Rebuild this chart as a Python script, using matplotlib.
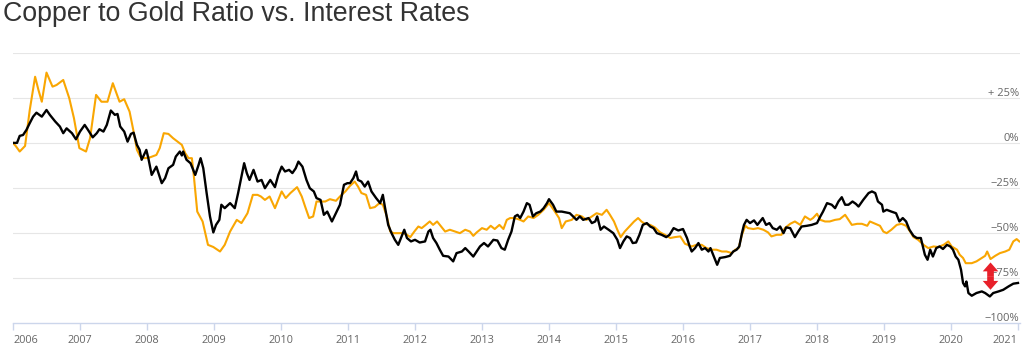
import matplotlib
matplotlib.use("Agg")
import matplotlib.pyplot as plt
from matplotlib.patches import FancyArrowPatch
import matplotlib.transforms as mtransforms
import numpy as np

# copper / gold ratio, % change since 2006 (black)
cg_years = [
    2006.00, 2006.06, 2006.10, 2006.15, 2006.20, 2006.25, 2006.30, 2006.35, 2006.43, 2006.50,
    2006.55, 2006.63, 2006.70, 2006.75, 2006.80, 2006.88, 2006.94, 2007.00, 2007.07, 2007.12,
    2007.19, 2007.25, 2007.29, 2007.35, 2007.40, 2007.46, 2007.52, 2007.56, 2007.60, 2007.66,
    2007.71, 2007.76, 2007.80, 2007.85, 2007.89, 2007.92, 2007.99, 2008.02, 2008.07, 2008.14,
    2008.22, 2008.27, 2008.32, 2008.39, 2008.43, 2008.49, 2008.52, 2008.54, 2008.59, 2008.65,
    2008.72, 2008.77, 2008.80, 2008.84, 2008.89, 2008.94, 2008.99, 2009.03, 2009.08, 2009.11,
    2009.16, 2009.24, 2009.31, 2009.36, 2009.41, 2009.45, 2009.49, 2009.53, 2009.59, 2009.65,
    2009.71, 2009.76, 2009.84, 2009.91, 2009.96, 2010.01, 2010.06, 2010.12, 2010.17, 2010.22,
    2010.26, 2010.32, 2010.38, 2010.43, 2010.49, 2010.53, 2010.59, 2010.64, 2010.69, 2010.76,
    2010.82, 2010.88, 2010.94, 2010.99, 2011.03, 2011.08, 2011.12, 2011.15, 2011.20, 2011.25,
    2011.30, 2011.35, 2011.42, 2011.48, 2011.52, 2011.55, 2011.60, 2011.65, 2011.70, 2011.75,
    2011.80, 2011.84, 2011.88, 2011.94, 2012.00, 2012.07, 2012.15, 2012.20, 2012.23, 2012.27,
    2012.32, 2012.37, 2012.42, 2012.50, 2012.57, 2012.62, 2012.70, 2012.75, 2012.80, 2012.87,
    2012.92, 2012.97, 2013.03, 2013.09, 2013.17, 2013.23, 2013.29, 2013.34, 2013.39, 2013.44,
    2013.49, 2013.53, 2013.57, 2013.62, 2013.67, 2013.71, 2013.76, 2013.81, 2013.87, 2013.92,
    2013.97, 2014.00, 2014.06, 2014.11, 2014.19, 2014.26, 2014.31, 2014.36, 2014.41, 2014.46,
    2014.51, 2014.59, 2014.64, 2014.69, 2014.72, 2014.77, 2014.82, 2014.89, 2014.96, 2015.02,
    2015.06, 2015.11, 2015.16, 2015.21, 2015.25, 2015.30, 2015.35, 2015.40, 2015.46, 2015.51,
    2015.56, 2015.61, 2015.68, 2015.75, 2015.80, 2015.86, 2015.93, 2016.00, 2016.06, 2016.10,
    2016.13, 2016.18, 2016.23, 2016.28, 2016.33, 2016.38, 2016.41, 2016.45, 2016.51, 2016.55,
    2016.63, 2016.70, 2016.75, 2016.80, 2016.84, 2016.88, 2016.91, 2016.95, 2017.00, 2017.06,
    2017.11, 2017.15, 2017.19, 2017.24, 2017.29, 2017.34, 2017.40, 2017.45, 2017.50, 2017.54,
    2017.60, 2017.67, 2017.72, 2017.77, 2017.85, 2017.92, 2018.00, 2018.05, 2018.09, 2018.15,
    2018.22, 2018.27, 2018.32, 2018.37, 2018.42, 2018.47, 2018.53, 2018.58, 2018.62, 2018.69,
    2018.77, 2018.82, 2018.87, 2018.91, 2018.97, 2018.99, 2019.04, 2019.11, 2019.18, 2019.23,
    2019.28, 2019.33, 2019.38, 2019.44, 2019.49, 2019.55, 2019.58, 2019.61, 2019.65, 2019.69,
    2019.73, 2019.78, 2019.83, 2019.88, 2019.94, 2019.99, 2020.03, 2020.07, 2020.11, 2020.15,
    2020.18, 2020.21, 2020.23, 2020.26, 2020.31, 2020.38, 2020.46, 2020.51, 2020.58, 2020.63,
    2020.71, 2020.78, 2020.86, 2020.93, 2021.00,
]
cg_values = [
    0.0, 0.0, 3.9, 4.4, 7.2, 11.0, 14.6, 16.8, 14.6, 18.3,
    15.6, 11.9, 9.1, 5.4, 8.1, 5.4, 2.0, 6.3, 10.0, 7.2,
    3.1, 5.4, 7.6, 6.3, 10.0, 18.0, 15.6, 16.1, 9.1, 6.3,
    0.7, 5.0, 5.7, -1.1, -3.9, -9.4, -3.9, -8.5, -17.8, -13.2,
    -22.4, -19.6, -14.1, -12.2, -7.6, -4.8, -7.0, -4.8, -9.4, -11.3,
    -17.8, -12.2, -8.5, -14.1, -27.9, -40.9, -49.8, -45.6, -42.8, -34.4,
    -36.3, -33.5, -36.3, -27.9, -18.7, -11.3, -16.8, -20.6, -15.0, -21.5,
    -20.6, -25.2, -20.6, -24.6, -17.8, -13.2, -15.9, -15.0, -16.8, -14.1,
    -10.4, -13.2, -20.6, -25.2, -27.0, -30.7, -31.7, -40.0, -38.2, -43.7,
    -39.1, -34.4, -23.3, -22.4, -22.4, -19.6, -15.9, -20.6, -21.5, -24.3,
    -21.5, -27.0, -30.7, -33.5, -28.9, -35.4, -45.6, -50.2, -53.9, -56.7,
    -52.0, -48.3, -52.9, -54.8, -53.9, -55.4, -54.8, -49.3, -48.3, -52.9,
    -55.7, -59.4, -62.8, -63.2, -65.9, -61.3, -60.4, -58.5, -60.4, -63.2,
    -60.4, -57.6, -55.7, -57.6, -53.9, -54.3, -58.5, -59.4, -53.9, -49.3,
    -40.9, -40.0, -41.8, -38.2, -33.5, -34.4, -40.9, -39.1, -38.2, -36.3,
    -33.5, -31.3, -34.4, -38.2, -38.2, -38.7, -39.1, -40.9, -42.8, -40.9,
    -42.8, -41.8, -44.6, -43.7, -40.9, -48.3, -46.5, -48.3, -50.2, -53.9,
    -58.5, -54.8, -52.0, -52.9, -55.7, -55.4, -51.1, -45.6, -44.6, -46.5,
    -47.4, -50.2, -51.1, -52.4, -51.1, -47.4, -48.7, -47.9, -52.9, -57.6,
    -60.4, -58.5, -55.7, -59.4, -58.5, -60.4, -58.5, -62.2, -67.8, -64.0,
    -63.5, -62.8, -60.4, -59.4, -57.6, -50.2, -45.6, -42.8, -44.6, -43.1,
    -45.6, -43.7, -41.8, -45.6, -44.6, -47.4, -48.3, -46.5, -50.2, -47.0,
    -47.4, -52.4, -49.3, -46.5, -46.1, -45.6, -44.6, -40.9, -38.2, -33.5,
    -34.4, -36.3, -32.6, -30.2, -34.4, -34.4, -32.6, -33.9, -35.4, -31.7,
    -27.9, -27.0, -27.9, -32.6, -34.4, -38.2, -37.2, -38.2, -39.1, -43.7,
    -41.8, -43.7, -48.3, -51.7, -52.9, -52.9, -57.6, -62.2, -65.0, -59.4,
    -63.2, -58.5, -57.6, -59.0, -56.7, -57.6, -59.4, -63.2, -65.0, -70.6,
    -77.9, -79.8, -77.1, -83.5, -85.0, -83.5, -82.6, -83.5, -85.4, -83.5,
    -82.6, -81.7, -79.8, -78.3, -77.9,
]

# interest rates, % change since 2006 (orange)
rate_years = [
    2006.00, 2006.04, 2006.10, 2006.18, 2006.25, 2006.33, 2006.38, 2006.43, 2006.50, 2006.59,
    2006.65, 2006.75, 2006.84, 2006.91, 2006.99, 2007.09, 2007.15, 2007.24, 2007.32, 2007.41,
    2007.49, 2007.59, 2007.66, 2007.74, 2007.80, 2007.85, 2007.90, 2007.97, 2008.04, 2008.14,
    2008.19, 2008.25, 2008.32, 2008.39, 2008.52, 2008.57, 2008.62, 2008.67, 2008.70, 2008.75,
    2008.83, 2008.91, 2008.99, 2009.09, 2009.16, 2009.24, 2009.34, 2009.41, 2009.50, 2009.58,
    2009.65, 2009.70, 2009.76, 2009.83, 2009.91, 2010.01, 2010.07, 2010.14, 2010.24, 2010.31,
    2010.36, 2010.42, 2010.48, 2010.53, 2010.58, 2010.66, 2010.73, 2010.82, 2010.88, 2010.96,
    2011.03, 2011.10, 2011.15, 2011.20, 2011.27, 2011.33, 2011.40, 2011.47, 2011.52, 2011.58,
    2011.63, 2011.68, 2011.75, 2011.83, 2011.88, 2011.93, 2011.99, 2012.05, 2012.10, 2012.16,
    2012.22, 2012.27, 2012.33, 2012.40, 2012.45, 2012.52, 2012.60, 2012.67, 2012.75, 2012.82,
    2012.87, 2012.92, 2013.00, 2013.07, 2013.13, 2013.19, 2013.26, 2013.32, 2013.37, 2013.42,
    2013.49, 2013.57, 2013.62, 2013.69, 2013.77, 2013.84, 2013.92, 2014.00, 2014.07, 2014.15,
    2014.19, 2014.25, 2014.34, 2014.41, 2014.49, 2014.56, 2014.64, 2014.71, 2014.79, 2014.86,
    2014.91, 2014.97, 2015.02, 2015.07, 2015.13, 2015.20, 2015.27, 2015.33, 2015.38, 2015.43,
    2015.51, 2015.58, 2015.66, 2015.73, 2015.81, 2015.88, 2015.96, 2016.03, 2016.13, 2016.20,
    2016.28, 2016.35, 2016.43, 2016.50, 2016.58, 2016.65, 2016.73, 2016.78, 2016.83, 2016.88,
    2016.93, 2016.97, 2017.05, 2017.12, 2017.20, 2017.27, 2017.32, 2017.40, 2017.47, 2017.52,
    2017.60, 2017.67, 2017.75, 2017.82, 2017.90, 2017.94, 2018.00, 2018.05, 2018.12, 2018.19,
    2018.27, 2018.34, 2018.42, 2018.47, 2018.52, 2018.60, 2018.67, 2018.75, 2018.79, 2018.87,
    2018.94, 2018.99, 2019.04, 2019.11, 2019.19, 2019.26, 2019.33, 2019.39, 2019.44, 2019.51,
    2019.59, 2019.66, 2019.74, 2019.81, 2019.89, 2019.96, 2020.01, 2020.09, 2020.13, 2020.18,
    2020.22, 2020.31, 2020.38, 2020.46, 2020.51, 2020.54, 2020.59, 2020.66, 2020.73, 2020.81,
    2020.87, 2020.93, 2020.98, 2021.02,
]
rate_values = [
    0.0, -1.7, -4.8, -1.7, 18.3, 36.8, 29.4, 22.9, 39.1, 31.3,
    32.2, 35.0, 24.8, 13.7, -2.9, -4.8, 2.6, 26.7, 22.9, 22.9,
    33.2, 22.9, 24.3, 17.4, 6.3, -3.9, -7.6, -8.5, -8.1, -6.7,
    -2.9, 5.4, 5.0, 2.6, -1.1, -5.7, -8.5, -8.5, -18.7, -38.2,
    -43.7, -56.7, -57.9, -60.4, -56.7, -49.3, -42.8, -44.6, -39.1, -28.9,
    -28.9, -29.8, -31.7, -29.8, -36.3, -27.0, -30.7, -27.9, -24.6, -29.8,
    -35.4, -41.8, -40.9, -32.6, -32.6, -32.6, -31.3, -32.2, -29.8, -27.0,
    -23.9, -21.5, -24.3, -27.9, -28.9, -36.3, -35.7, -33.5, -34.4, -40.9,
    -49.3, -50.2, -50.2, -50.2, -51.1, -52.4, -49.3, -46.5, -47.4, -45.6,
    -43.7, -45.6, -43.7, -47.0, -49.3, -48.3, -49.3, -50.2, -48.3, -49.3,
    -51.7, -49.8, -47.4, -48.3, -46.1, -47.9, -45.6, -47.9, -42.8, -41.8,
    -41.8, -42.8, -43.7, -40.9, -41.8, -40.0, -37.2, -33.5, -37.2, -41.8,
    -47.4, -43.7, -42.8, -40.0, -40.9, -42.8, -40.9, -39.1, -40.0, -37.2,
    -40.0, -43.7, -48.3, -52.4, -49.3, -46.5, -43.7, -41.8, -43.7, -45.0,
    -45.6, -47.0, -49.8, -51.1, -52.9, -52.4, -52.0, -56.1, -57.6, -56.7,
    -56.7, -58.5, -59.4, -59.4, -60.4, -60.4, -61.3, -59.4, -58.5, -51.1,
    -46.1, -47.4, -47.9, -47.4, -48.3, -49.8, -52.0, -51.1, -51.1, -47.4,
    -45.0, -43.7, -45.6, -40.9, -42.8, -41.8, -39.4, -42.8, -43.7, -43.7,
    -42.8, -42.4, -40.0, -42.8, -45.6, -45.0, -45.0, -46.1, -43.7, -45.0,
    -46.1, -49.3, -50.2, -48.3, -45.6, -45.0, -46.1, -49.3, -52.4, -53.9,
    -56.7, -58.5, -57.6, -57.9, -56.7, -54.8, -57.6, -59.4, -62.2, -64.0,
    -66.9, -66.9, -65.9, -64.0, -62.8, -60.4, -64.6, -62.8, -61.3, -60.4,
    -59.4, -54.8, -53.5, -54.8,
]

year_ticks = list(range(2006, 2022))
pct_ticks = [25, 0, -25, -50, -75, -100]
pct_labels = ["+ 25%", "0%", "\u221225%", "\u221250%", "\u221275%", "\u2212100%"]

# red gap arrow between the two lines at the end of 2020
arrow_x = 2020.59
arrow_top = -66.5
arrow_bottom = -81.7

GRID = "#e6e6e6"
AXIS = "#ccd6eb"
LABEL = "#666666"
ORANGE = "#f9a602"
RED = "#e8202a"

fig = plt.figure(figsize=(10.24, 3.55), dpi=100)
ax = fig.add_axes([13 / 1024, 1 - 322.7 / 355, (1020 - 13) / 1024, (322.7 - 53) / 355])

ax.set_xlim(2006, 2021.03)
ax.set_ylim(-100, 50)

for v in [50, 25, 0, -25, -50, -75]:
    ax.axhline(v, color=GRID, lw=0.8, zorder=0)

ax.plot(rate_years, rate_values, color=ORANGE, lw=1.5, zorder=2)
ax.plot(cg_years, cg_values, color="black", lw=1.7, zorder=3)

for s in ["top", "left", "right"]:
    ax.spines[s].set_visible(False)
ax.spines["bottom"].set_color(AXIS)
ax.spines["bottom"].set_linewidth(1.0)

ax.set_yticks([])
ax.set_xticks(year_ticks)
ax.set_xticklabels([str(y) for y in year_ticks], fontsize=7.8, color=LABEL,
                   family=["Open Sans", "DejaVu Sans"])
ax.tick_params(axis="x", direction="out", length=5, width=1, color=AXIS, pad=4)
labels = ax.get_xticklabels()
labels[0].set_horizontalalignment("left")
labels[-1].set_horizontalalignment("right")

trans = mtransforms.blended_transform_factory(ax.transAxes, ax.transData)
for v, lab in zip(pct_ticks, pct_labels):
    ax.text(0.999, v + 2.6, lab, transform=trans, ha="right", va="center",
            fontsize=8, color=LABEL, family=["Open Sans", "DejaVu Sans"], zorder=4)

mid = (arrow_top + arrow_bottom) / 2
for end in (arrow_top, arrow_bottom):
    ax.add_patch(FancyArrowPatch((arrow_x, mid), (arrow_x, end),
                                 arrowstyle="simple,head_length=0.8,head_width=1.4,tail_width=0.6",
                                 mutation_scale=8, color=RED, lw=0,
                                 shrinkA=0, shrinkB=0, zorder=6))

fig.text(3 / 1024, 1 - 14 / 355, "Copper to Gold Ratio vs. Interest Rates",
         fontsize=19.3, color="#333333", ha="left", va="center",
         family=["Liberation Sans", "DejaVu Sans"])

fig.savefig("out.png", dpi=100)
